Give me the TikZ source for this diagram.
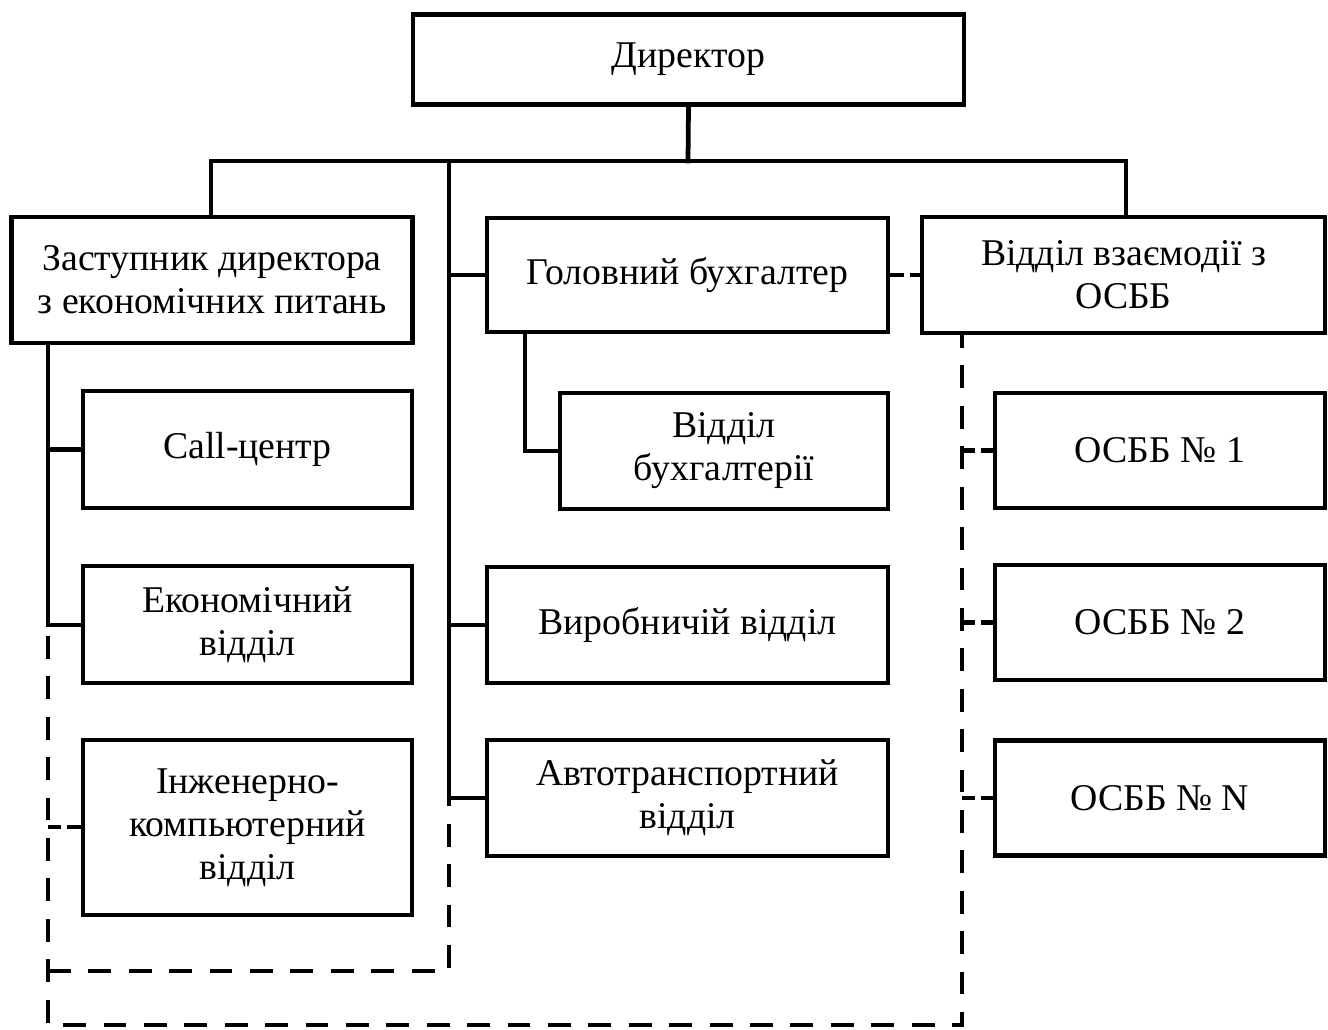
\documentclass[tikz,border=0pt]{standalone}
\usepackage{fontspec}
\setmainfont{Liberation Serif}
\begin{document}
\begin{tikzpicture}[x=0.02cm,y=-0.02cm,
  unit/.style={draw=black, line width=0.095cm, rectangle, align=center, inner sep=0pt,
    font=\fontsize{21.5pt}{24.5pt}\selectfont},
  link/.style={line width=0.095cm, line cap=rect},
  dlink/.style={line width=0.095cm, dash pattern=on 13pt off 10pt},
  dshort/.style={line width=0.095cm, dash pattern=on 7.5pt off 3.5pt}]
\useasboundingbox (0,0) rectangle (1328,1030);

% top level
\node[unit, minimum width=11.02cm, minimum height=1.8cm] (dir) at (688.5,59.5) {Директор};

% second level
\node[unit, minimum width=8.02cm, minimum height=2.52cm] (zast) at (212,280) {Заступник директора\\з економічних питань};
\node[unit, minimum width=8.02cm, minimum height=2.28cm] (gol) at (687.5,275) {Головний бухгалтер};
\node[unit, minimum width=8.06cm, minimum height=2.32cm] (vza) at (1123.5,275) {Відділ взаємодії з\\ОСББ};

% left column
\node[unit, minimum width=6.58cm, minimum height=2.34cm] (call) at (247.5,449.5) {Call-центр};
\node[unit, minimum width=6.58cm, minimum height=2.34cm] (eko) at (247.5,624.5) {Економічний\\відділ};
\node[unit, minimum width=6.58cm, minimum height=3.5cm] (inzh) at (247.5,827.5) {Інженерно-\\компьютерний\\відділ};

% middle column
\node[unit, minimum width=6.56cm, minimum height=2.32cm] (buh) at (724,451) {Відділ\\бухгалтерії};
\node[unit, minimum width=8.02cm, minimum height=2.32cm] (vyr) at (687.5,625) {Виробничій відділ};
\node[unit, minimum width=8.02cm, minimum height=2.32cm] (avto) at (687.5,798) {Автотранспортний\\відділ};

% right column
\node[unit, minimum width=6.6cm, minimum height=2.3cm] (o1) at (1160,450.5) {ОСББ № 1};
\node[unit, minimum width=6.6cm, minimum height=2.3cm] (o2) at (1160,622.5) {ОСББ № 2};
\node[unit, minimum width=6.6cm, minimum height=2.3cm] (oN) at (1160,798) {ОСББ № N};

% junction points
\coordinate (busL) at (211,161);
\coordinate (busM) at (688,161);
\coordinate (busC) at (449,161);
\coordinate (busR) at (1126,161);
\coordinate (midEnd) at (449,798);
\coordinate (midLow) at (449,971);
\coordinate (leftEko) at (48,625);
\coordinate (leftInzh) at (48,827);
\coordinate (leftMid) at (48,971);
\coordinate (leftBot) at (48,1025);
\coordinate (rightBot) at (962,1025);
\coordinate (buhTurn) at (525,451);

% solid subordination lines
\draw[link] (dir.south) -- (busM);
\draw[link] (busL) -- (busR);
\draw[link] (busL) -- (busL |- zast.north);
\draw[link] (busR) -- (busR |- vza.north);
\draw[link] (busC) -- (midEnd) -- (avto.west |- midEnd);
\draw[link] (busC |- gol.west) -- (gol.west);
\draw[link] (busC |- vyr.west) -- (vyr.west);
\draw[link] (leftEko |- zast.south) -- (leftEko) -- (eko.west |- leftEko);
\draw[link] (leftEko |- call.west) -- (call.west);
\draw[link] (buhTurn |- gol.south) -- (buhTurn) -- (buh.west);

% dashed coordination lines
\draw[dshort] (gol.east) -- (vza.west);
\draw[dlink] (48,636) -- (leftBot) -- (rightBot) -- (rightBot |- vza.south);
\draw[dshort] (leftInzh) -- (inzh.west |- leftInzh);
\draw[dlink] (leftMid) -- (midLow) -- (midEnd);
\draw[dshort] (rightBot |- o1.west) -- (o1.west);
\draw[dshort] (rightBot |- o2.west) -- (o2.west);
\draw[dshort] (rightBot |- oN.west) -- (oN.west);
\end{tikzpicture}
\end{document}
